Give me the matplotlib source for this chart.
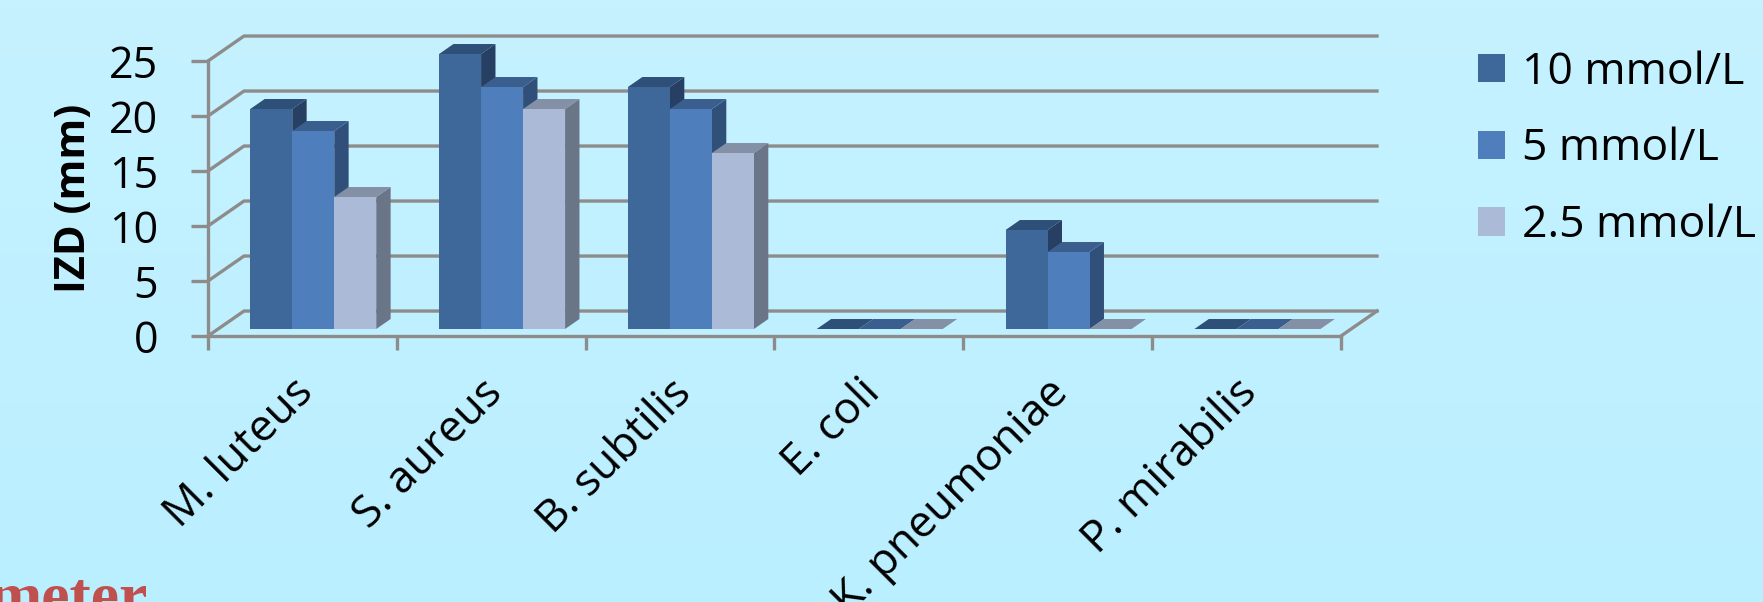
import numpy as np
import matplotlib
matplotlib.use('Agg')
import matplotlib.pyplot as plt
from matplotlib.patches import Polygon, Patch
from matplotlib.transforms import ScaledTranslation

categories = ['M. luteus', 'S. aureus', 'B. subtilis', 'E. coli', 'K. pneumoniae', 'P. mirabilis']
series_names = ['10 mmol/L', '5 mmol/L', '2.5 mmol/L']
izd_10 = [20, 25, 22, 0, 9, 0]
izd_5 = [18, 22, 20, 0, 7, 0]
izd_25 = [12, 20, 16, 0, 0, 0]
y_ticks = [0, 5, 10, 15, 20, 25]

W, H = 1763, 602
front_cols = ['#3F689A', '#4E7FBC', '#ABBAD6']
top_cols = ['#2D4F78', '#3A5F8E', '#8390A6']
side_cols = ['#263F62', '#315079', '#6A7688']
grey = '#8E8C8A'
plt.rcParams['font.family'] = ['Open Sans', 'DejaVu Sans']

fig = plt.figure(figsize=(W / 100, H / 100), dpi=100)

# background wash
bg = fig.add_axes([0, 0, 1, 1], zorder=0)
bg.imshow(np.linspace(0, 1, 64).reshape(-1, 1), aspect='auto', extent=[0, 1, 0, 1],
          cmap=matplotlib.colors.LinearSegmentedColormap.from_list('wash', ['#C6F2FF', '#BAEFFF']))
bg.axis('off')

ax = fig.add_axes([208 / W, (H - 336) / H, 1133 / W, 275 / H], zorder=1)
ax.patch.set_alpha(0)
ax.set_xlim(0, 6)
ax.set_ylim(0, 25)

# oblique depth: d=0 is the front edge of the floor, d=1 the back wall
depth_x = 0.1906
depth_y = 2.27

def proj(x, v, d):
    return (x + d * depth_x, v + d * depth_y)

# walls and gridlines
for v in y_ticks:
    pts = [proj(0, v, 0), proj(0, v, 1), proj(6, v, 1)]
    ax.plot(*zip(*pts), color=grey, lw=2.4, clip_on=False, zorder=1, solid_joinstyle='miter')
pts = [proj(6, 0, 0), proj(6, 0, 1)]
ax.plot(*zip(*pts), color=grey, lw=2.4, clip_on=False, zorder=1)

# 3d bars, left to right so each one sits over its neighbour's side face
bar_w = 0.2224
d0, d1 = 0.28, 0.68
z = 2
for i in range(len(categories)):
    left = i + 0.5 - 1.5 * bar_w + 0.004
    for s, vals in enumerate([izd_10, izd_5, izd_25]):
        v = vals[i]
        a = left + s * bar_w
        b = a + bar_w
        side = [proj(b, 0, d0), proj(b, 0, d1), proj(b, v, d1), proj(b, v, d0)]
        top = [proj(a, v, d0), proj(a, v, d1), proj(b, v, d1), proj(b, v, d0)]
        front = [proj(a, 0, d0), proj(b, 0, d0), proj(b, v, d0), proj(a, v, d0)]
        ax.add_patch(Polygon(side, fc=side_cols[s], ec='none', clip_on=False, zorder=z))
        ax.add_patch(Polygon(top, fc=top_cols[s], ec='none', clip_on=False, zorder=z))
        if v > 0:
            ax.add_patch(Polygon(front, fc=front_cols[s], ec='none', clip_on=False, zorder=z))
        z += 1

for name in ['top', 'right']:
    ax.spines[name].set_visible(False)
for name in ['left', 'bottom']:
    ax.spines[name].set_color(grey)
    ax.spines[name].set_linewidth(2.4)

ax.set_yticks(y_ticks)
ax.tick_params(axis='y', length=12, width=2.4, color=grey, labelsize=31, pad=24)
ax.set_xticks(range(7))
ax.set_xticklabels([])
ax.tick_params(axis='x', which='major', length=10, width=2.4, color=grey)
ax.set_xticks(np.arange(6) + 0.5, minor=True)
ax.set_xticklabels(categories, minor=True, rotation=45, ha='right', rotation_mode='anchor', fontsize=32)
ax.tick_params(axis='x', which='minor', length=0, pad=25)
# nudge the slanted names to the left of their slots
nudge = ScaledTranslation(-8 / 72, 0, fig.dpi_scale_trans)
for lab in ax.get_xticklabels(minor=True):
    lab.set_transform(lab.get_transform() + nudge)
ax.set_ylabel('IZD (mm)', fontsize=30, fontweight='bold', labelpad=10)

handles = [Patch(fc=c, ec='none') for c in front_cols]
ax.legend(handles, series_names, loc='upper left', bbox_to_anchor=(1478 / W, (H - 50) / H),
          bbox_transform=fig.transFigure, frameon=False, fontsize=32, handlelength=0.61, handleheight=0.61,
          handletextpad=0.37, labelspacing=0.73, borderpad=0, borderaxespad=0)

# heading from the text below the chart, cut by the lower edge
fig.text(-12 / W, -14 / H, 'meter', family='Liberation Serif', fontweight='bold', fontsize=46, color='#C0504D')

fig.savefig('out.png', dpi=100)
